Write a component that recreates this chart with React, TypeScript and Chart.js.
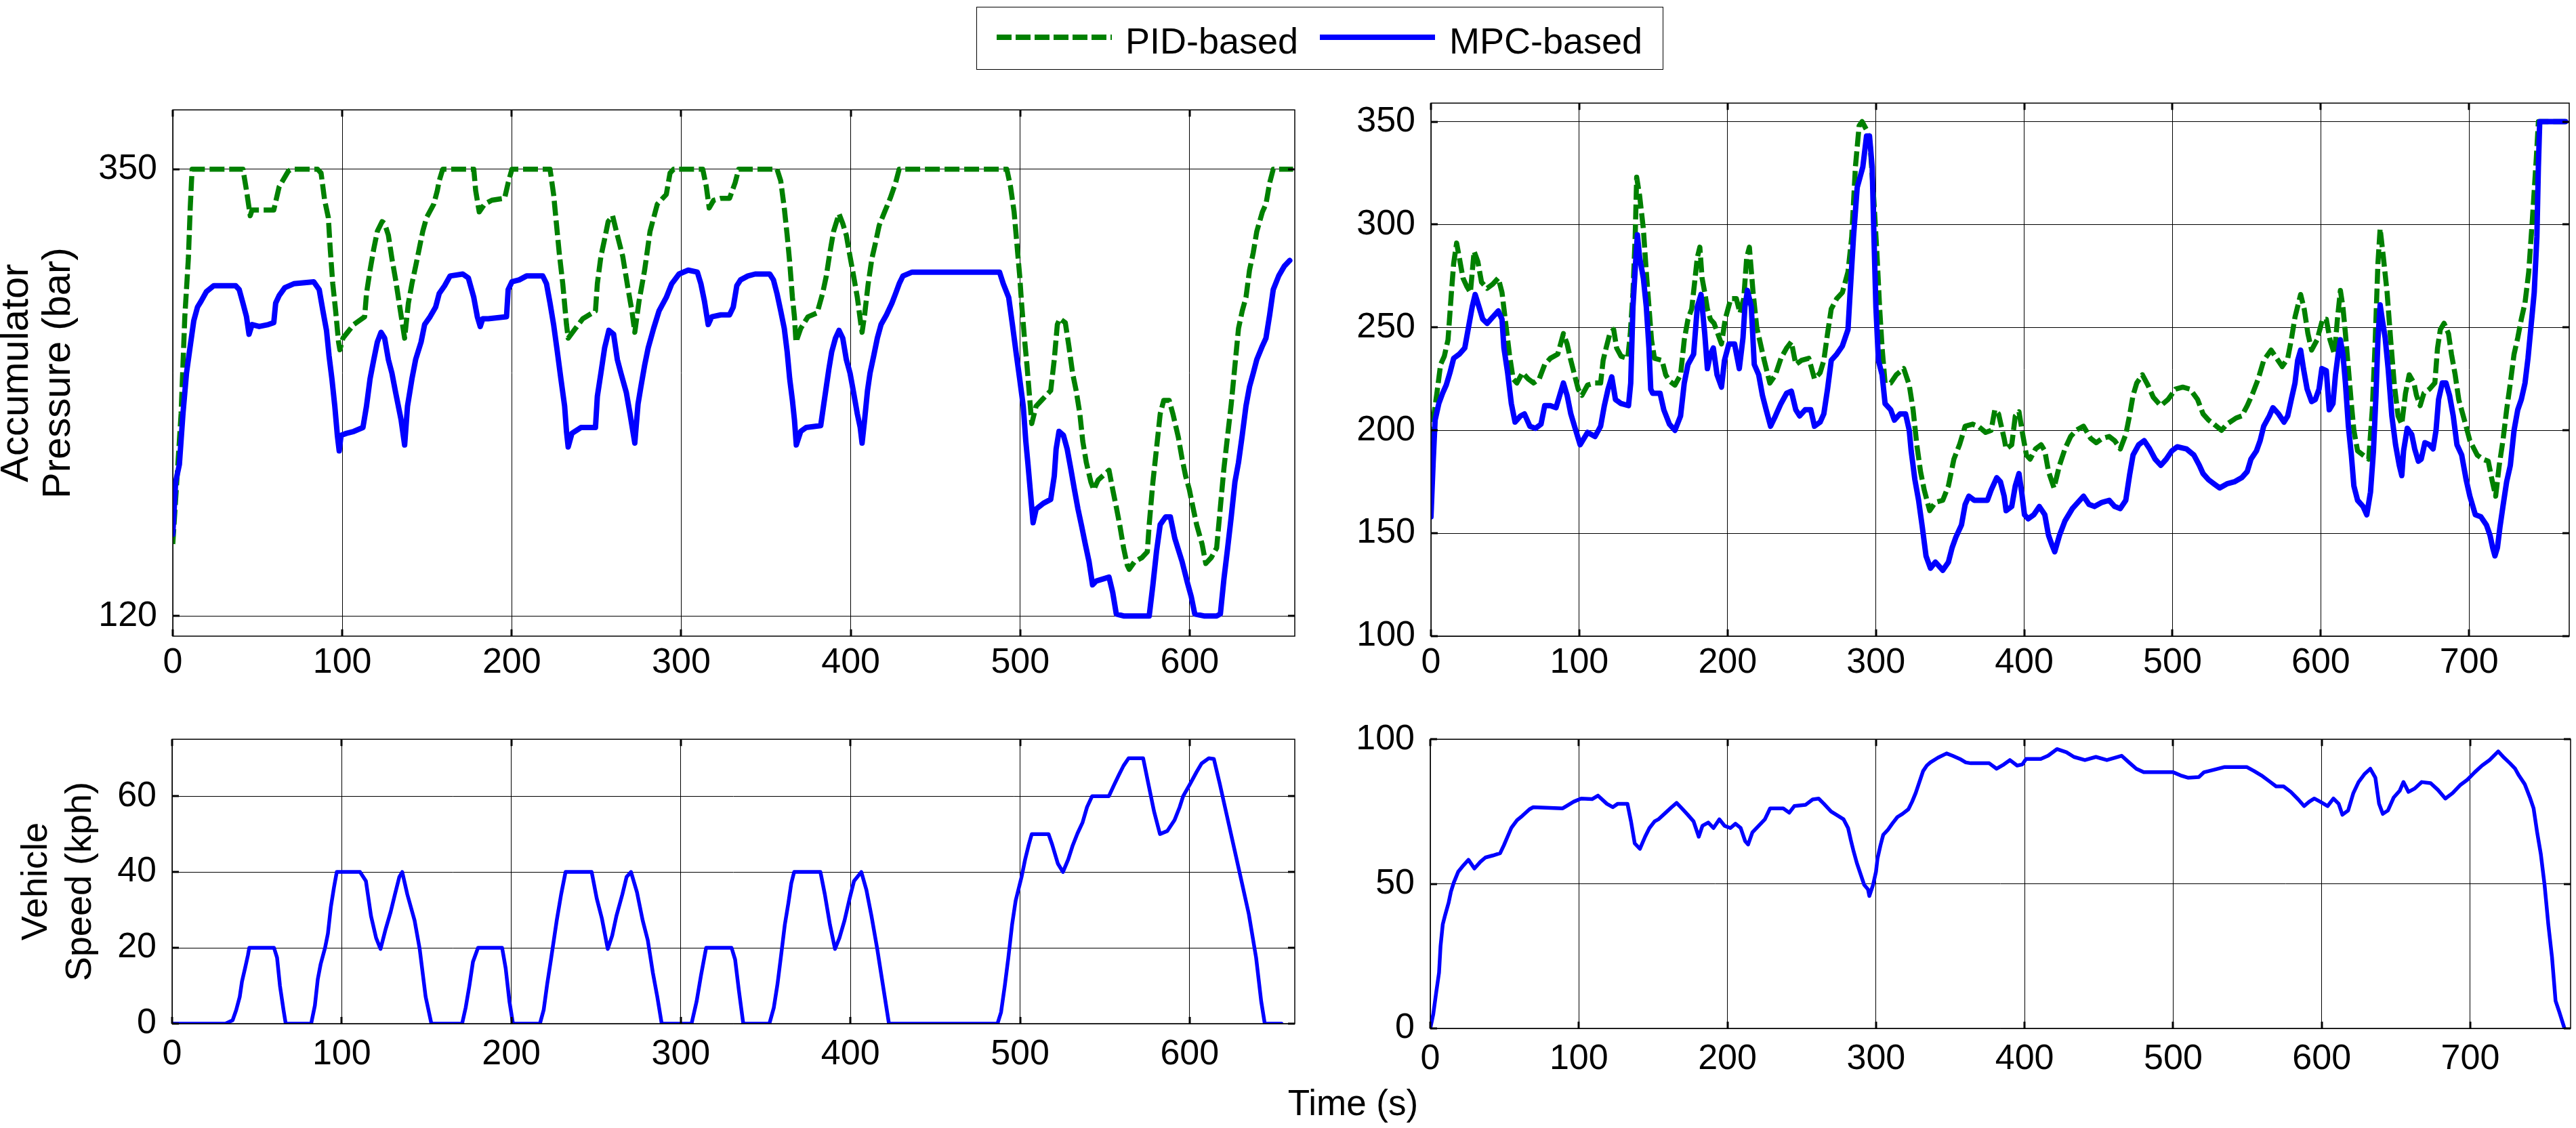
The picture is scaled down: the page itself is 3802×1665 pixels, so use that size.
import React, { useEffect, useRef } from 'react';
import { Chart, registerables } from 'chart.js';

Chart.register(...registerables);

const FONT = '"Liberation Sans", Arial, Helvetica, sans-serif';
const PID_COLOR = '#008000';
const MPC_COLOR = '#0000ff';

const seriesLabels = ['PID-based', 'MPC-based'];
const xAxisLabel = 'Time (s)';
const pressureLabel = ['Accumulator', 'Pressure (bar)'];
const speedLabel = ['Vehicle', 'Speed (kph)'];

const urbanTimeTicks = [0, 100, 200, 300, 400, 500, 600];
const highwayTimeTicks = [0, 100, 200, 300, 400, 500, 600, 700];
const urbanPressureTicks = [120, 350];
const highwayPressureTicks = [100, 150, 200, 250, 300, 350];
const urbanSpeedTicks = [0, 20, 40, 60];
const highwaySpeedTicks = [0, 50, 100];

// [time s, pressure bar] — urban cycle, PID-based
const urbanPid: [number, number][] = [
  [0, 157], [1.7, 180], [4.9, 224], [7.1, 274], [9.2, 304], [10.3, 330], [11.4, 350], [41.4, 350], [43.5, 339], [45.7, 326],
  [46.8, 329], [59.6, 329], [62.8, 341], [68.2, 349], [70.3, 350], [85.4, 350], [87.5, 348], [89.6, 334], [91.8, 325], [92.9, 309],
  [94.4, 291], [96.1, 277], [97.8, 261], [98.6, 257], [100.4, 263], [106.8, 270], [113.2, 274], [114.3, 286], [116.4, 298], [118.6, 309],
  [120.7, 318], [123.5, 323], [125, 322], [127.2, 316], [129.3, 304], [131.5, 293], [133.6, 281], [136.8, 263], [139, 281], [141.1, 291],
  [143.3, 300], [145.4, 309], [147.5, 318], [149.7, 325], [154, 332], [156.1, 339], [157.2, 344], [159.3, 350], [177.6, 350], [178.7, 339],
  [180.8, 328], [184, 332], [188.3, 334], [195.8, 335], [197.9, 343], [200.1, 350], [222.6, 350], [224.7, 337], [225.8, 327], [228, 307],
  [230.1, 291], [232.3, 270], [233.3, 263], [237.6, 268], [241.9, 273], [249.4, 277], [250.5, 291], [252.6, 305], [254.8, 314], [256.9, 323],
  [259.5, 326], [262.3, 316], [265.5, 305], [268.7, 288], [270.9, 277], [272.6, 266], [275.1, 282], [278.4, 298], [281.6, 318], [285.9, 332],
  [291.2, 337], [293.4, 348], [295.5, 350], [312.7, 350], [314.8, 341], [316.5, 330], [319.1, 334], [323.4, 335], [328.5, 335], [331.8, 343],
  [333.9, 350], [356.5, 350], [358.7, 344], [360.8, 330], [362.5, 316], [364, 302], [365.6, 284], [366.8, 274], [367.7, 261], [370.5, 268],
  [374.8, 274], [380.2, 276], [383.4, 286], [385.6, 295], [387.7, 307], [389.9, 318], [393.1, 327], [395.3, 322], [397.4, 316], [399.6, 305],
  [401.7, 295], [403.9, 284], [406, 270], [406.7, 266], [408.2, 275], [410.3, 291], [412.5, 304], [414.6, 312], [416.8, 321], [420, 328],
  [423.3, 335], [426.5, 343], [428.6, 350], [492.1, 350], [494.3, 341], [496.4, 328], [498, 312], [499.7, 295], [500.8, 281], [502.5, 263],
  [504, 249], [505.5, 233], [506.8, 219], [509.4, 228], [512.6, 231], [518, 236], [520.1, 252], [521.9, 270], [523.4, 273], [526.6, 271],
  [528.7, 259], [530.9, 245], [533, 236], [535.2, 224], [536.9, 210], [539, 199], [541.7, 189], [543.4, 185], [546, 190], [552.4, 195],
  [554.6, 185], [556.7, 176], [558.9, 166], [561, 155], [563.2, 146], [564.3, 144], [567.5, 148], [571.8, 150], [575, 153], [576.1, 167],
  [578.3, 189], [580.4, 206], [582.6, 224], [584.7, 231], [587.9, 231], [590.1, 224], [593.3, 212], [595.5, 201], [597.6, 192], [599.8, 185],
  [601.9, 176], [604.1, 167], [607.3, 157], [609.5, 147], [612.7, 150], [615.9, 155], [618.1, 176], [620.2, 196], [622.4, 213], [624.5, 229],
  [626.7, 249], [628.8, 268], [631, 277], [633.2, 284], [635.3, 298], [637.5, 307], [639.6, 318], [642.9, 328], [645, 332], [647.2, 343],
  [649.3, 350], [661, 350],
];

// [time s, pressure bar] — urban cycle, MPC-based
const urbanMpc: [number, number][] = [
  [0, 162], [1.7, 189], [3.9, 198], [6, 224], [8.1, 245], [10.3, 259], [12.4, 272], [14.6, 279], [16.7, 282], [19.9, 287],
  [24.2, 290], [37.1, 290], [39.2, 288], [41.4, 281], [43.5, 274], [45, 265], [46.8, 270], [51, 269], [56.4, 270], [59.6, 271],
  [60.7, 281], [62.8, 285], [66.1, 289], [71.4, 291], [83.2, 292], [86.4, 288], [88.6, 277], [90.7, 267], [92.2, 254], [93.9, 242],
  [95.6, 228], [97.1, 213], [98.2, 205], [99.3, 213], [102.5, 214], [106.8, 215], [112.2, 217], [114.3, 228], [116.4, 242], [118.6, 252],
  [120.7, 261], [122.9, 266], [125, 263], [127.2, 252], [129.3, 245], [131.5, 235], [134.7, 221], [136.8, 208], [138.5, 228], [141.1, 242],
  [143.3, 252], [146.5, 261], [148.6, 270], [151.8, 274], [155.1, 279], [157.2, 286], [160.4, 290], [163.6, 295], [171.1, 296], [174.4, 294],
  [177.6, 284], [179.7, 274], [181.4, 269], [182.9, 273], [186.1, 273], [196.9, 274], [197.9, 288], [200.1, 292], [204.4, 293], [208.7, 295],
  [218.3, 295], [220.5, 291], [222.6, 281], [224.7, 270], [226.9, 256], [229, 242], [231.2, 228], [232.3, 215], [233.3, 207], [235.5, 214],
  [240.8, 217], [249.4, 217], [250.5, 233], [252.6, 245], [254.8, 258], [257.3, 267], [260.1, 265], [262.3, 252], [264.4, 245], [267.6, 235],
  [269.8, 224], [272.6, 209], [274.5, 229], [276.2, 238], [278.4, 249], [280.5, 258], [283.7, 268], [286.9, 277], [291.2, 284], [294.4, 291],
  [298.7, 296], [304.1, 298], [309.5, 297], [311.6, 291], [313.7, 282], [315.9, 270], [318, 274], [323.4, 275], [328.5, 275], [330.7, 279],
  [332.8, 290], [335, 293], [339.3, 295], [343.6, 296], [352.2, 296], [354.4, 293], [356.5, 286], [358.7, 277], [360.8, 268], [362.5, 256],
  [364, 242], [365.6, 231], [366.8, 221], [367.9, 208], [370.5, 215], [373.7, 217], [382.3, 218], [384.1, 229], [385.6, 238], [387.1, 247],
  [388.8, 256], [391, 263], [393.1, 267], [395.3, 263], [397.4, 252], [399.6, 245], [401.7, 235], [403.9, 224], [405.6, 217], [406.7, 209],
  [408.2, 221], [409.9, 236], [411.4, 245], [413.6, 254], [415.7, 263], [417.9, 270], [421.1, 275], [424.3, 281], [426.5, 286], [428.6, 291],
  [430.8, 295], [436.2, 297], [487.8, 297], [490, 291], [493.2, 284], [495.4, 270], [497.5, 256], [499.7, 242], [501.8, 228], [503.3, 210],
  [504.6, 198], [506.1, 183], [507.6, 168], [509.4, 175], [513.7, 178], [518, 180], [520.1, 192], [521.2, 206], [522.9, 215], [525.5, 213],
  [527.7, 206], [529.8, 196], [532, 185], [534.1, 175], [536.3, 166], [538.4, 157], [540.6, 148], [542.7, 136], [544.9, 138], [552.4, 140],
  [554.6, 132], [556.7, 121], [561, 120], [576.1, 120], [578.3, 136], [580.4, 153], [582.6, 167], [585.8, 171], [588.6, 171], [591.2, 160],
  [595.5, 148], [598.7, 137], [600.9, 130], [603, 121], [608.4, 120], [615.9, 120], [618.1, 121], [620.2, 139], [622.4, 155], [624.5, 171],
  [626.7, 189], [628.8, 199], [631, 213], [633.2, 228], [635.3, 238], [637.5, 245], [639.6, 252], [642.9, 259], [645, 263], [647.2, 275],
  [649.3, 288], [652.5, 295], [655.8, 300], [659, 303],
];

// [time s, speed kph] — urban cycle
const urbanSpeed: [number, number][] = [
  [0, 0], [31.4, 0], [35.7, 0.9], [37.8, 3.6], [39.9, 7.1], [41.2, 11.1], [43, 14.6], [44.7, 18], [45.5, 20], [60.1, 20],
  [61.9, 17.4], [63.6, 10], [65.7, 3.6], [67, 0], [82, 0], [84.2, 4.8], [85.9, 11.7], [87.6, 15.7], [90.2, 20], [91.9, 23.8],
  [93.6, 30.7], [95.4, 35.8], [97.1, 40], [110.8, 40], [114.3, 37.6], [117.3, 28.4], [120.3, 22.6], [122.9, 19.7], [125.9, 24.9], [128.9, 29.5],
  [131.4, 34.1], [134, 38.7], [135.7, 40], [138.7, 34.1], [143, 27.2], [146, 19.7], [149.5, 7.1], [152.9, 0], [171, 0], [173.1, 4.2],
  [175.3, 10], [177.4, 16.3], [180.4, 20], [194.6, 20], [196.7, 14.6], [198.9, 5.9], [201, 0], [216.9, 0], [219.1, 3.6], [221.2, 10.5],
  [223.4, 16.9], [226.8, 27.2], [229.4, 34.1], [232, 40], [247.4, 40], [250.4, 33], [253.4, 27.8], [256.9, 19.7], [259.5, 23.2], [262, 28.4],
  [265.5, 34.1], [268, 38.7], [270.6, 40], [274.1, 34.7], [277.5, 27.2], [280.5, 22], [283.5, 13.4], [286.1, 7.1], [288.7, 0], [306.3, 0],
  [309.3, 5.9], [311.9, 12.8], [314.9, 20], [329.9, 20], [332, 16.9], [334.2, 8.8], [336.8, 0], [352.2, 0], [354.8, 4.2], [357, 10.5],
  [359.1, 18], [361.3, 26.1], [363.4, 31.8], [365.1, 37], [366.8, 40], [382.3, 40], [384.9, 34.1], [387.9, 26.1], [390.9, 19.7], [393.5, 22.6],
  [396.5, 27.2], [399.5, 33], [402.1, 37.6], [406.4, 40], [409.4, 35.3], [412.4, 28.4], [415.8, 19.7], [419.2, 10], [422.7, 0], [486.7, 0],
  [488.8, 3], [491, 10], [493.1, 17.4], [495.3, 26.1], [497.4, 32.4], [500.9, 38.7], [503, 43.3], [505.2, 47.3], [506.9, 50], [516.8, 50],
  [518.9, 47.3], [522.3, 42.2], [525.3, 40], [528.4, 43.3], [530.9, 46.8], [533.9, 50.2], [536.9, 53.1], [539.5, 57.1], [542.5, 60], [552.4, 60],
  [555.4, 62.9], [558.4, 65.7], [561, 68], [564, 70], [572.6, 70], [575.6, 63.4], [579, 56], [582.5, 50], [586.8, 50.8], [591.1, 53.7],
  [594.1, 57.1], [596.2, 60], [600.5, 63.4], [604, 66.3], [607, 68.6], [611.3, 70], [614.3, 69.8], [617.7, 63.4], [622, 54.8], [626.3, 46.2],
  [630.6, 37.6], [634.9, 28.9], [639.2, 17.4], [642.2, 5.9], [644.3, 0], [654.2, 0],
];

// [time s, pressure bar] — highway cycle, PID-based
const highwayPid: [number, number][] = [
  [0, 185], [1.5, 205], [4, 218], [6.5, 232], [9, 236], [11.5, 244], [12.8, 257], [14, 269], [15.3, 281], [17.3, 291],
  [19.1, 284], [21.6, 274], [24.1, 270], [26.6, 267], [29.1, 287], [31.6, 282], [34.1, 272], [37.9, 269], [41.6, 271], [45.4, 274],
  [47.9, 267], [50.4, 252], [52.9, 237], [55.4, 225], [57.9, 223], [61.7, 228], [65.5, 225], [69.2, 223], [73, 225], [76.7, 232],
  [80.5, 235], [85.5, 237], [89.3, 247], [91.8, 242], [94.3, 234], [96.8, 227], [99.3, 220], [101.8, 217], [105.6, 222], [110.6, 223],
  [114.4, 223], [116.1, 234], [118.1, 240], [120.6, 247], [123.2, 249], [125.2, 240], [128.2, 236], [132.7, 235], [134.4, 247], [136.2, 267],
  [137.7, 294], [138.7, 323], [140.7, 314], [143.2, 298], [145.2, 277], [147, 260], [148.7, 244], [150.7, 235], [155.8, 234], [158.3, 227],
  [160.8, 224], [164.5, 222], [168.3, 227], [170.8, 244], [173.3, 254], [175.8, 259], [177.8, 272], [179.6, 284], [181.3, 289], [182.8, 274],
  [184.6, 267], [186.4, 259], [188.4, 254], [190.9, 252], [193.4, 247], [195.9, 242], [198.4, 254], [202.2, 264], [205.9, 264], [208.4, 257],
  [210.9, 264], [212.9, 284], [214.7, 289], [217.2, 267], [219.7, 250], [222.2, 242], [224.7, 234], [228.5, 223], [232.3, 227], [236, 235],
  [239.8, 240], [243, 243], [246, 232], [249.8, 234], [254.8, 235], [258.6, 225], [262.4, 228], [264.9, 234], [267.4, 247], [269.9, 259],
  [273.6, 264], [277.4, 267], [281.2, 277], [283.7, 294], [286.2, 328], [288.7, 348], [290.7, 350], [293.7, 346], [296.2, 338], [298.7, 311],
  [300.7, 286], [302.5, 260], [304.2, 240], [306.2, 223], [310, 223], [313.8, 227], [318.8, 230], [322.5, 222], [325.1, 210], [327.6, 193],
  [330.1, 180], [332.6, 171], [336.3, 161], [340.1, 165], [345.1, 166], [348.9, 173], [352.6, 186], [356.4, 193], [360.2, 202], [365.2, 203],
  [369, 202], [374, 199], [377.7, 200], [380.2, 210], [382.7, 208], [386.5, 196], [387.8, 191], [391.6, 193], [394, 207], [396.5, 209],
  [399, 198], [401.5, 188], [404, 186], [407.7, 191], [411.4, 193], [413.9, 190], [416.4, 180], [420.1, 172], [423.8, 183], [427.5, 191],
  [431.3, 197], [435, 200], [440, 202], [444.9, 196], [448.6, 194], [452.4, 196], [457.3, 197], [461, 195], [464.8, 191], [468.5, 198],
  [471, 207], [473.4, 217], [475.9, 223], [479.7, 227], [483.4, 222], [487.1, 216], [492.1, 212], [497, 215], [502, 220], [506.9, 221],
  [511.9, 220], [516.9, 215], [520.6, 208], [524.3, 205], [528, 203], [533, 200], [536.7, 203], [542.9, 206], [546.7, 207], [550.4, 212],
  [554.1, 218], [557.8, 225], [561.5, 234], [566.5, 239], [570.2, 235], [574, 231], [577.7, 235], [580.1, 244], [582.6, 255], [586.4, 266],
  [588.8, 259], [591.3, 247], [593.8, 239], [597.5, 244], [601.2, 254], [603.7, 254], [606.2, 244], [609.2, 237], [611.2, 254], [613.2, 268],
  [614.9, 260], [616.6, 247], [618.6, 230], [620.6, 213], [622.3, 200], [624.8, 190], [628.5, 188], [632.3, 186], [634.7, 210], [636.5, 240],
  [638.5, 281], [640, 298], [642.2, 284], [644.7, 267], [647.1, 244], [649.6, 222], [652.1, 207], [654.6, 203], [657.1, 218], [659.6, 227],
  [662.8, 223], [664.5, 217], [667, 212], [669.5, 218], [673.2, 220], [676.9, 223], [678.7, 240], [680.6, 249], [683.1, 252], [686.1, 247],
  [688.1, 237], [690.6, 227], [693, 215], [696.8, 205], [700.5, 195], [705.5, 188], [709.2, 186], [712.9, 185], [715.4, 176], [717.9, 168],
  [720.3, 183], [722.8, 195], [725.3, 210], [727.8, 223], [730.3, 237], [732.8, 245], [735.2, 254], [737.7, 262], [740.2, 277], [742.7, 303],
  [745.2, 331], [746.7, 350], [765, 350],
];

// [time s, pressure bar] — highway cycle, MPC-based
const highwayMpc: [number, number][] = [
  [0, 158], [1.5, 185], [2.8, 205], [5.3, 213], [7.8, 218], [10.3, 222], [12.8, 228], [15.3, 235], [19.1, 237], [22.8, 240],
  [25.3, 250], [27.8, 260], [29.8, 266], [32.4, 260], [34.9, 254], [37.9, 252], [41.6, 255], [45.4, 258], [47.9, 254], [49.2, 240],
  [51.7, 228], [54.2, 213], [56.7, 204], [60.4, 207], [63, 208], [66.7, 202], [70.5, 201], [74.2, 203], [76.7, 212], [80.5, 212],
  [84.3, 211], [86.8, 217], [89.3, 223], [91.8, 217], [94.3, 208], [96.8, 202], [100.6, 193], [105.6, 199], [110.6, 197], [114.4, 202],
  [116.9, 212], [119.4, 220], [121.9, 226], [124.4, 215], [128.2, 213], [133.2, 212], [134.7, 223], [136.2, 260], [138.2, 284], [139.2, 295],
  [140.7, 284], [143.2, 274], [145.2, 260], [147, 240], [148.2, 220], [149.5, 218], [154.5, 218], [157, 210], [160.8, 203], [164.5, 200],
  [168.3, 207], [170.8, 223], [173.3, 232], [177.1, 237], [179.6, 260], [182.1, 266], [184.6, 247], [186.4, 230], [188.4, 237], [190.4, 240],
  [192.9, 227], [195.9, 221], [197.9, 234], [200.9, 242], [204.7, 242], [207.9, 230], [210.4, 245], [211.7, 260], [213.4, 268], [216, 260],
  [218, 232], [221, 227], [223.5, 217], [226, 210], [229, 202], [232.3, 207], [236, 213], [239.8, 218], [243, 219], [246, 210],
  [248.6, 207], [252.3, 210], [256.1, 210], [258.6, 202], [262.4, 204], [264.9, 208], [267.4, 220], [269.9, 234], [273.6, 237], [277.4, 241],
  [281.2, 249], [282.4, 264], [284.9, 294], [287.4, 318], [291.2, 328], [293.7, 343], [295.7, 343], [297.5, 328], [298.7, 294], [300, 260],
  [301.7, 234], [304.2, 227], [306.2, 213], [310, 210], [312.5, 205], [316.3, 208], [320, 208], [322.5, 200], [323.8, 190], [326.3, 176],
  [328.8, 166], [331.3, 153], [333.8, 139], [336.8, 133], [340.1, 136], [345.1, 132], [348.9, 136], [351.4, 143], [353.9, 148], [357.7, 154],
  [360.2, 164], [362.7, 168], [366.4, 166], [375.2, 166], [377.7, 171], [381.5, 177], [384, 175], [386.5, 168], [387.8, 161], [391.6, 163],
  [394, 173], [396.5, 179], [398.3, 170], [400.2, 159], [402.7, 157], [406.5, 159], [410.2, 163], [413.9, 159], [416.4, 149], [418.9, 144],
  [420.6, 141], [423.8, 149], [427.5, 156], [432.5, 162], [436.2, 165], [440, 168], [443.7, 164], [447.4, 163], [452.4, 165], [457.3, 166],
  [461, 163], [464.8, 162], [468.5, 166], [471, 178], [473.4, 188], [477.2, 193], [480.9, 195], [484.6, 191], [488.3, 186], [492.1, 183],
  [495.8, 186], [499.5, 190], [503.2, 192], [509.4, 191], [514.4, 188], [518.1, 183], [520.6, 179], [524.3, 176], [528, 174], [531.8, 172],
  [536.7, 174], [541.7, 175], [546.7, 177], [550.4, 180], [552.9, 186], [556.6, 190], [559.1, 195], [561.5, 202], [565.3, 207], [567.7, 211],
  [571.5, 208], [575.2, 204], [577.7, 207], [580.1, 215], [582.6, 223], [584.4, 234], [586.4, 239], [588.3, 230], [590.8, 220], [593.8, 214],
  [596.3, 215], [598.8, 220], [600.7, 230], [603.7, 229], [605.7, 210], [608.2, 213], [609.9, 227], [611.7, 237], [613.2, 244], [614.9, 237],
  [616.6, 223], [618.6, 202], [620.6, 188], [622.3, 173], [624.8, 166], [628.5, 163], [631, 159], [633.5, 170], [635.5, 190], [637.2, 217],
  [638.5, 244], [640, 261], [641.4, 254], [643.4, 245], [645.4, 230], [647.9, 207], [650.4, 193], [652.9, 183], [654.6, 178], [655.8, 190],
  [658.3, 201], [661.3, 198], [663.3, 191], [665.8, 185], [667.7, 186], [670.2, 194], [673.2, 193], [675.7, 191], [677.7, 200], [679.4, 215],
  [681.9, 223], [684.4, 223], [686.8, 217], [689.3, 207], [691.8, 193], [695, 188], [698, 176], [700.5, 168], [704.2, 159], [707.9, 158],
  [711.7, 154], [714.1, 149], [715.9, 143], [717.4, 139], [719.1, 143], [720.8, 153], [722.8, 163], [725.3, 175], [727.8, 183], [730.3, 200],
  [732.8, 210], [735.2, 215], [737.7, 223], [739.7, 235], [742.2, 254], [743.9, 267], [745.7, 294], [746.7, 328], [747.6, 350], [765, 350],
];

// [time s, speed kph] — highway cycle
const highwaySpeed: [number, number][] = [
  [0, 0], [2, 4.9], [4, 12.5], [5.9, 19.3], [6.9, 28.4], [8.4, 36], [9.9, 39], [12.4, 43.6], [13.9, 47.3], [15.8, 50.4],
  [18.8, 54.2], [22.3, 56.4], [25.7, 58.3], [29.7, 55.3], [33.7, 57.6], [37.1, 59.1], [42.1, 59.8], [47, 60.6], [49.5, 63.3], [52, 66.3],
  [54.5, 69.3], [58.4, 72], [61.9, 73.5], [66.8, 75.8], [69.3, 76.5], [89.1, 76.1], [91.6, 76.9], [96.5, 78.4], [101.5, 79.5], [108.9, 79.3],
  [112.9, 80.5], [118.8, 77.7], [122.8, 76.5], [126.2, 77.7], [132.7, 77.7], [135.1, 71.6], [137.6, 64], [141.1, 62.1], [144.6, 66.3], [147.5, 69.3],
  [151, 71.6], [153.5, 72.3], [158.4, 74.6], [162.4, 76.5], [165.8, 78], [169.3, 76.1], [173.3, 73.9], [177.2, 71.6], [180.7, 66.3], [183.2, 70.1],
  [187.1, 71.2], [190.6, 69.3], [194.6, 72.3], [198, 70.1], [202, 69.3], [205.4, 70.8], [208.9, 69.3], [211.9, 64.8], [213.9, 63.6], [216.8, 67.8],
  [220.3, 69.7], [225.2, 72.3], [228.7, 76.1], [237.6, 76.1], [241.6, 74.6], [245, 76.9], [252.5, 77.3], [257.4, 79.2], [261.4, 79.5], [264.9, 77.7],
  [269.8, 75], [273.3, 73.9], [278.2, 72.3], [281.2, 69.3], [283.2, 64.8], [284.7, 61.7], [287.1, 57.2], [289.6, 53.4], [292.1, 49.6], [294.6, 48.1],
  [295.5, 45.8], [298, 49.6], [300, 54.2], [301, 58.7], [303, 63.3], [304.9, 67], [307.9, 68.6], [310.9, 70.8], [314.4, 73.1], [317.8, 74.2],
  [321.8, 75.8], [324.3, 78.4], [326.7, 81.4], [329.2, 85.2], [331.7, 89], [334.2, 90.9], [336.6, 92], [341.6, 93.6], [347.5, 95.1], [351.5, 94.3],
  [356.4, 93.2], [360.4, 92], [363.9, 91.7], [376.2, 91.7], [381.2, 89.8], [386.1, 91.3], [390.1, 92.8], [395, 90.9], [398.5, 91.3], [401, 93.2],
  [410.9, 93.2], [415.8, 94.3], [421.8, 96.6], [428.2, 95.5], [433.2, 93.9], [440.6, 92.8], [448, 93.9], [455.4, 92.8], [465.3, 94.3], [470.3, 92],
  [475.2, 89.8], [480.2, 88.6], [500, 88.6], [505, 87.5], [509.9, 86.7], [517.3, 86.9], [520.8, 88.6], [527.2, 89.4], [534.7, 90.4], [549.5, 90.4],
  [554.5, 89], [559.4, 87.5], [564.4, 85.6], [569.3, 83.7], [574.3, 83.7], [579.2, 81.8], [584.2, 79.2], [588.1, 76.9], [591.6, 78.4], [595, 79.5],
  [599, 78.4], [604, 76.9], [607.9, 79.5], [611.4, 77.7], [613.9, 73.9], [617.8, 75.4], [621.3, 81.4], [624.8, 85.2], [628.7, 87.9], [632.7, 89.8],
  [636.1, 86.7], [638.6, 77.7], [641.1, 74.2], [644.6, 75.4], [648.5, 79.9], [652.5, 82.2], [655, 85.2], [658.4, 81.8], [662.4, 82.9], [667.3, 85.2],
  [673.3, 84.8], [678.2, 82.5], [683.2, 79.5], [688.1, 81.4], [693.1, 84.1], [698, 86], [703, 88.6], [707.9, 90.9], [712.9, 92.8], [718.8, 95.8],
  [722.8, 93.6], [726.7, 91.7], [730.2, 89.8], [732.7, 87.5], [736.6, 84.5], [740.1, 79.9], [742.6, 76.1], [745, 67.8], [747.5, 60.2], [750, 49.6],
  [752.5, 36], [755, 24.6], [757.4, 9.5], [759.9, 5.7], [763.4, 0],
];

const matlabFrame = {
  id: 'matlabFrame',
  afterDatasetsDraw(chart: any) {
    const { ctx, chartArea } = chart;
    const { left, right, top, bottom } = chartArea;
    const xs = chart.scales.x;
    const ys = chart.scales.y;
    const len = 10;
    ctx.save();
    ctx.strokeStyle = '#000';
    ctx.lineWidth = 3;
    ctx.beginPath();
    for (const t of xs.ticks) {
      const px = Math.round(xs.getPixelForValue(t.value));
      ctx.moveTo(px, top);
      ctx.lineTo(px, top + len);
      ctx.moveTo(px, bottom);
      ctx.lineTo(px, bottom - len);
    }
    for (const t of ys.ticks) {
      const py = Math.round(ys.getPixelForValue(t.value));
      ctx.moveTo(left, py);
      ctx.lineTo(left + len, py);
      ctx.moveTo(right, py);
      ctx.lineTo(right - len, py);
    }
    ctx.stroke();
    ctx.lineWidth = 1.5;
    ctx.strokeRect(left, top, right - left, bottom - top);
    ctx.restore();
  },
};

type PlotSpec = {
  left: number;
  top: number;
  width: number;
  height: number;
  padTop: number;
  padRight: number;
  yAxisWidth: number;
  xAxisHeight: number;
  xMin: number;
  xMax: number;
  xTicks: number[];
  xTickPad: number;
  yMin: number;
  yMax: number;
  yTicks: number[];
  yTitle?: string[];
  yTitleSize?: number;
  yTitleLineHeight?: number;
  datasets: any[];
};

const makeLine = (pts: [number, number][], label: string, color: string, width: number, order: number, dash?: number[]) => ({
  label,
  data: pts.map(([x, y]) => ({ x, y })),
  borderColor: color,
  backgroundColor: color,
  borderWidth: width,
  borderDash: dash || [],
  borderJoinStyle: 'round',
  borderCapStyle: dash ? 'butt' : 'round',
  pointRadius: 0,
  pointHoverRadius: 0,
  tension: 0,
  fill: false,
  order,
});

function Plot({ spec }: { spec: PlotSpec }) {
  const ref = useRef<HTMLCanvasElement | null>(null);
  useEffect(() => {
    if (!ref.current) return;
    const tickFont = { family: FONT, size: 52, lineHeight: 1.2 };
    const chart = new Chart(ref.current, {
      type: 'line',
      data: { datasets: spec.datasets },
      plugins: [matlabFrame],
      options: {
        responsive: false,
        maintainAspectRatio: false,
        animation: false,
        devicePixelRatio: 1,
        events: [],
        layout: { padding: { top: spec.padTop, right: spec.padRight, left: 0, bottom: 0 } },
        plugins: { legend: { display: false }, tooltip: { enabled: false }, title: { display: false } },
        scales: {
          x: {
            type: 'linear',
            min: spec.xMin,
            max: spec.xMax,
            afterBuildTicks: (axis: any) => {
              axis.ticks = spec.xTicks.map((v) => ({ value: v }));
            },
            afterFit: (axis: any) => {
              axis.height = spec.xAxisHeight;
            },
            grid: { color: '#000', lineWidth: 1, drawTicks: false },
            border: { display: false },
            ticks: {
              color: '#000',
              font: tickFont,
              padding: spec.xTickPad,
              maxRotation: 0,
              minRotation: 0,
              autoSkip: false,
              callback: (v: any) => String(v),
            },
          },
          y: {
            type: 'linear',
            min: spec.yMin,
            max: spec.yMax,
            afterBuildTicks: (axis: any) => {
              axis.ticks = spec.yTicks.map((v) => ({ value: v }));
            },
            afterFit: (axis: any) => {
              axis.width = spec.yAxisWidth;
            },
            grid: { color: '#000', lineWidth: 1, drawTicks: false },
            border: { display: false },
            ticks: {
              color: '#000',
              font: tickFont,
              padding: 23,
              autoSkip: false,
              callback: (v: any) => String(v),
            },
            title: spec.yTitle
              ? {
                  display: true,
                  text: spec.yTitle,
                  color: '#000',
                  padding: 0,
                  font: { family: FONT, size: spec.yTitleSize || 54, lineHeight: spec.yTitleLineHeight || 1.2 },
                }
              : { display: false },
          },
        },
      } as any,
    });
    return () => chart.destroy();
  }, []);
  return (
    <canvas
      ref={ref}
      width={spec.width}
      height={spec.height}
      style={{ position: 'absolute', left: spec.left, top: spec.top, width: spec.width, height: spec.height }}
    />
  );
}

const topLeft: PlotSpec = {
  left: -6, top: 108, width: 1927, height: 911, padTop: 40, padRight: 10, yAxisWidth: 261, xAxisHeight: 80,
  xMin: 0, xMax: 662, xTicks: urbanTimeTicks, xTickPad: 8,
  yMin: 109.6, yMax: 380.5, yTicks: urbanPressureTicks,
  yTitle: pressureLabel, yTitleSize: 58, yTitleLineHeight: 1.07,
  datasets: [
    makeLine(urbanPid, seriesLabels[0], PID_COLOR, 7.5, 2, [22, 7]),
    makeLine(urbanMpc, seriesLabels[1], MPC_COLOR, 8, 1),
  ],
};

const topRight: PlotSpec = {
  left: 1950, top: 98, width: 1852, height: 921, padTop: 40, padRight: 10, yAxisWidth: 162, xAxisHeight: 80,
  xMin: 0, xMax: 767.5, xTicks: highwayTimeTicks, xTickPad: 8,
  yMin: 100, yMax: 359, yTicks: highwayPressureTicks,
  datasets: [
    makeLine(highwayPid, seriesLabels[0], PID_COLOR, 7.5, 2, [22, 7]),
    makeLine(highwayMpc, seriesLabels[1], MPC_COLOR, 8, 1),
  ],
};

const bottomLeft: PlotSpec = {
  left: 22, top: 1037, width: 1899, height: 554, padTop: 40, padRight: 10, yAxisWidth: 232, xAxisHeight: 80,
  xMin: 0, xMax: 662, xTicks: urbanTimeTicks, xTickPad: 14,
  yMin: 0, yMax: 75, yTicks: urbanSpeedTicks,
  yTitle: speedLabel, yTitleSize: 54, yTitleLineHeight: 1.2,
  datasets: [makeLine(urbanSpeed, 'Vehicle speed', MPC_COLOR, 5.5, 1)],
};

const bottomRight: PlotSpec = {
  left: 1950, top: 1037, width: 1852, height: 561, padTop: 40, padRight: 8, yAxisWidth: 161, xAxisHeight: 80,
  xMin: 0, xMax: 767.5, xTicks: highwayTimeTicks, xTickPad: 14,
  yMin: 0, yMax: 100, yTicks: highwaySpeedTicks,
  datasets: [makeLine(highwaySpeed, 'Vehicle speed', MPC_COLOR, 5.5, 1)],
};

export default function App() {
  useEffect(() => {
    document.body.style.margin = '0';
  }, []);
  const textStyle: React.CSSProperties = {
    position: 'absolute',
    fontFamily: FONT,
    fontSize: 54,
    lineHeight: '54px',
    whiteSpace: 'nowrap',
    color: '#000',
  };
  return (
    <div
      style={{
        position: 'fixed',
        left: 0,
        top: 0,
        width: 3802,
        height: 1665,
        background: '#fff',
        overflow: 'hidden',
      }}
    >
      <Plot spec={topLeft} />
      <Plot spec={topRight} />
      <Plot spec={bottomLeft} />
      <Plot spec={bottomRight} />
      <div
        style={{
          position: 'absolute',
          left: 1441,
          top: 10,
          width: 1014,
          height: 93,
          border: '1.5px solid #000',
          boxSizing: 'border-box',
          background: '#fff',
        }}
      >
        <div
          style={{
            position: 'absolute',
            left: 29,
            top: 40,
            width: 170,
            height: 8,
            background: `repeating-linear-gradient(to right, ${PID_COLOR} 0px, ${PID_COLOR} 22px, transparent 22px, transparent 28px)`,
          }}
        />
        <span style={{ ...textStyle, left: 219, top: 22 }}>{seriesLabels[0]}</span>
        <div style={{ position: 'absolute', left: 506, top: 40, width: 170, height: 8, background: MPC_COLOR }} />
        <span style={{ ...textStyle, left: 697, top: 22 }}>{seriesLabels[1]}</span>
      </div>
      <div style={{ ...textStyle, fontSize: 53, lineHeight: '53px', left: 1897, top: 1601, width: 200, textAlign: 'center' }}>
        {xAxisLabel}
      </div>
    </div>
  );
}
